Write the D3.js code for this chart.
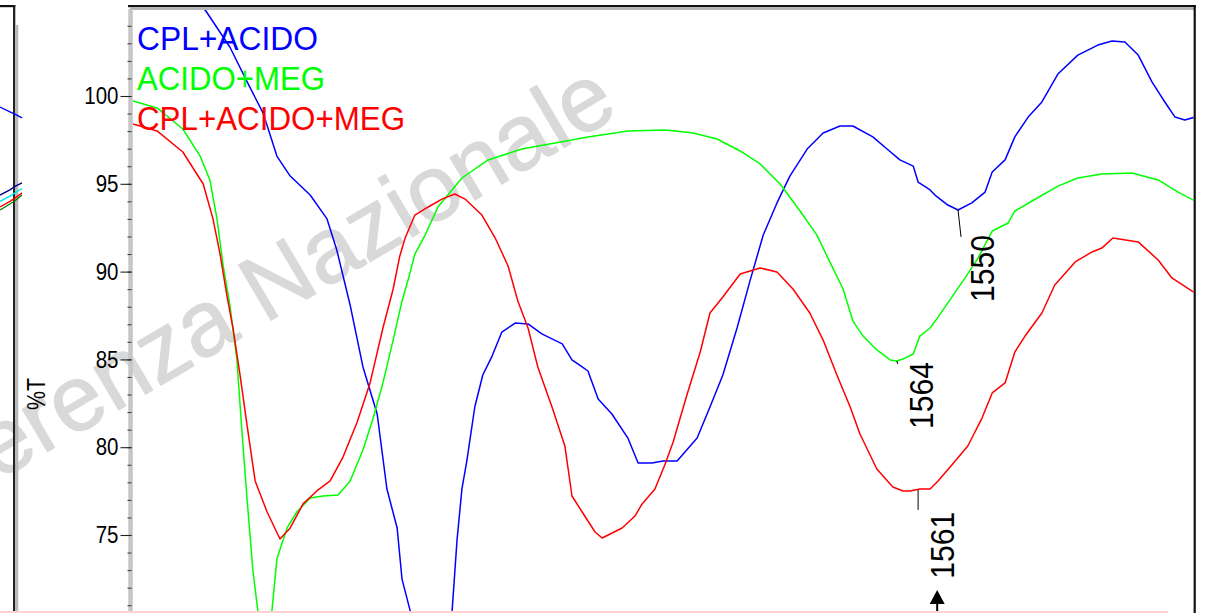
<!DOCTYPE html>
<html><head><meta charset="utf-8">
<script src="https://cdn.jsdelivr.net/npm/d3@7"></script>
<style>
html,body{margin:0;padding:0;background:#fff;overflow:hidden;}
svg{display:block;font-family:Arial,"Liberation Sans",sans-serif;}
</style></head><body>
<svg id="chart" width="1209" height="613"></svg>
<script>
// ---------------- data ----------------
const seriesNames = ["CPL+ACIDO", "ACIDO+MEG", "CPL+ACIDO+MEG"];
const seriesColors = ["#0000ff", "#00ff00", "#ff0000"];

const blueWavenumber = [1736.8,1728.0,1719.9,1714.5,1710.6,1707.0,1703.9,1700.9,1696.4,1692.6,1690.4,1687.4,1684.5,1681.3,1679.1,1676.8,1675.7,1673.9,1672.1,1669.2,1666.2,1664.4,1663.3,1662.2,1661.1,1659.3,1657.5,1655.4,1653.2,1650.2,1647.3,1644.2,1639.6,1637.4,1635.1,1633.8,1631.5,1628.4,1624.8,1622.5,1619.4,1616.9,1613.7,1609.2,1606.3,1603.4,1600.2,1597.3,1594.3,1591.2,1588.3,1584.4,1580.8,1577.0,1574.1,1569.6,1566.4,1563.5,1560.5,1559.4,1556.7,1555.6,1552.7,1550.4,1547.3,1544.3,1542.7,1539.8,1537.6,1534.6,1531.5,1527.9,1523.4,1518.9,1515.7,1512.8,1509.8,1506.7,1503.8,1501.5,1499.3,1497.0];
const blueT = [110.0,107.2,104.84,102.79,100.80,99.03,96.58,95.44,94.36,93.00,91.23,88.10,84.57,81.89,77.62,75.40,72.49,70.72,69.02,67.88,69.02,70.72,74.72,77.62,79.21,82.29,84.11,85.19,86.56,87.07,87.02,86.45,85.88,84.97,84.57,84.34,82.74,81.89,80.52,79.10,79.10,79.21,79.21,80.52,82.29,84.11,86.79,89.46,92.08,93.91,95.44,96.98,97.89,98.29,98.29,97.67,96.98,96.36,96.01,95.10,94.65,94.36,93.79,93.51,93.91,94.53,95.67,96.36,97.67,98.80,99.66,101.25,102.33,102.90,103.13,103.08,102.33,100.80,99.66,98.80,98.63,98.80];

const greenWavenumber = [1736.3,1730.9,1725.1,1721.2,1719.0,1717.4,1716.0,1714.5,1712.9,1711.8,1710.6,1709.3,1708.2,1707.3,1706.4,1705.5,1705.0,1703.9,1701.6,1699.4,1696.4,1693.5,1690.1,1687.4,1684.5,1682.2,1680.0,1677.7,1675.7,1674.4,1672.8,1670.5,1667.6,1662.2,1656.3,1648.7,1641.2,1633.8,1624.8,1616.4,1610.1,1604.7,1599.5,1595.0,1590.5,1586.0,1582.2,1579.3,1576.3,1574.1,1571.8,1568.7,1565.7,1564.2,1562.8,1560.5,1559.0,1556.7,1554.9,1551.8,1548.8,1545.9,1542.7,1539.1,1537.6,1533.7,1527.9,1523.4,1518.0,1511.2,1505.3,1500.8,1497.0];
const greenT = [99.72,99.32,98.12,96.58,95.22,93.00,90.32,88.10,84.97,80.98,76.99,72.95,70.72,68.45,68.16,69.02,70.72,73.63,75.40,76.31,77.11,77.22,77.28,78.08,79.84,81.66,83.66,86.10,88.33,89.46,91.00,92.08,93.68,95.33,96.36,96.98,97.32,97.67,98.01,98.06,97.89,97.55,96.87,96.13,94.99,93.45,92.08,90.55,89.01,87.19,86.33,85.54,84.97,84.91,85.02,85.31,86.33,86.79,87.41,88.55,89.64,90.77,92.31,92.77,93.45,94.02,94.87,95.33,95.56,95.62,95.22,94.53,94.02];

const redWavenumber = [1736.3,1730.9,1725.1,1720.5,1718.3,1716.7,1715.1,1713.8,1712.2,1710.6,1708.8,1706.1,1703.2,1700.9,1698.0,1694.9,1691.9,1689.0,1685.8,1682.9,1680.0,1677.7,1676.2,1675.0,1672.8,1669.8,1666.7,1663.8,1661.5,1657.7,1654.7,1651.8,1649.6,1647.3,1645.1,1641.9,1639.0,1637.4,1635.1,1632.2,1630.6,1626.1,1623.2,1621.6,1618.7,1616.4,1614.6,1611.5,1608.5,1606.3,1603.4,1599.5,1595.0,1591.2,1587.6,1583.8,1580.8,1577.7,1574.7,1572.5,1568.7,1565.1,1562.8,1561.2,1559.0,1556.7,1554.9,1551.8,1548.2,1545.0,1542.7,1539.8,1537.6,1535.3,1531.5,1528.6,1524.0,1520.2,1518.0,1515.5,1509.8,1505.3,1502.2,1497.0];
const redT = [98.41,98.01,96.81,94.99,93.00,91.00,88.55,86.79,84.11,81.21,78.08,76.31,74.77,75.40,76.77,77.51,78.08,79.44,81.44,83.66,86.79,89.01,90.89,91.91,93.22,93.68,94.13,94.42,94.13,93.22,91.91,90.32,88.33,86.79,84.57,82.29,80.07,77.22,76.31,75.17,74.83,75.40,76.08,76.77,77.62,79.04,80.30,82.97,85.42,87.64,88.55,89.86,90.21,89.98,89.01,87.64,86.10,84.11,82.29,80.75,78.76,77.73,77.51,77.51,77.62,77.62,78.08,78.99,80.07,81.66,83.09,83.66,85.42,86.33,87.64,89.24,90.55,91.12,91.34,91.91,91.69,90.66,89.64,88.78];

const majorTicks = [75, 80, 85, 90, 95, 100];
const minorTicks = [71,72,73,74,75,76,77,78,79,80,81,82,83,84,85,86,87,88,89,90,91,92,93,94,95,96,97,98,99,100,101,102,103,104];
const yAxisTitle = "%T";

const peakLabels = ["1550", "1564", "1561"];
const peakWavenumber = [1550.4, 1564.2, 1559.4];
const peakT = [93.51, 84.91, 77.57];
const arrowWavenumber = 1555.1;

// fragment of the neighbouring panel at the left edge
const leftPanelX = [0, 0.45, 0.7, 1];
const leftTopBlueT = [99.37, 99.1, 98.95, 98.75];
const leftNavyT = [94.36, 94.65, 94.87, 95.05];
const leftCyanT = [94.0, 94.3, 94.5, 94.72];
const leftRedT = [93.68, 94.0, 94.2, 94.48];
const leftGreenT = [93.51, 93.85, 94.05, 94.36];

const watermarkText = "Conferenza Nazionale";

// ---------------- drawing ----------------
const svg = d3.select("#chart");
const W = 1209, H = 613;

const x = d3.scaleLinear().domain([1737, 1497]).range([130, 1195]);
const y = d3.scaleLinear().domain([75, 100]).range([535, 96]);
const xl = d3.scaleLinear().domain([0, 1]).range([0, 22]);

svg.append("rect").attr("width", W).attr("height", H).attr("fill", "#fff");

// watermark
svg.append("text")
  .attr("transform", "translate(621,114) rotate(-30.5)")
  .attr("text-anchor", "end")
  .attr("font-size", 93)
  .attr("fill", "#d9d9d9")
  .attr("stroke", "#d9d9d9")
  .attr("stroke-width", 1.2)
  .text(watermarkText);

// left panel frame
svg.append("rect").attr("x", 0).attr("y", 5).attr("width", 15.3).attr("height", 2.2).attr("fill", "#111");
svg.append("rect").attr("x", 13).attr("y", 5).attr("width", 2.3).attr("height", H - 5).attr("fill", "#222");
svg.append("rect").attr("x", 15.3).attr("y", 25).attr("width", 3).attr("height", H - 25).attr("fill", "#b9b9b9");

const lineL = (ts) => d3.line().x((d, i) => xl(leftPanelX[i])).y(d => y(d))(ts);
[[leftTopBlueT, "#0000ff"], [leftNavyT, "#00008b"], [leftCyanT, "#00e8e8"], [leftGreenT, "#008000"], [leftRedT, "#ff0000"]]
  .forEach(([ts, c]) => svg.append("path").attr("d", lineL(ts)).attr("fill", "none").attr("stroke", c).attr("stroke-width", 1.4));

// main frame
svg.append("rect").attr("x", 128).attr("y", 5).attr("width", 1068).attr("height", 2.2).attr("fill", "#111");
svg.append("rect").attr("x", 130).attr("y", 7.2).attr("width", 1064).attr("height", 2.8).attr("fill", "#b4b4b4");
svg.append("rect").attr("x", 1193.6).attr("y", 5).attr("width", 2.2).attr("height", H - 5).attr("fill", "#111");
svg.append("rect").attr("x", 128.3).attr("y", 9).attr("width", 4.5).attr("height", H - 9).attr("fill", "#c6c6c6");

// y axis: minor and major ticks
const minorAxis = d3.axisLeft(y).tickValues(minorTicks).tickSize(4).tickFormat("");
const gMinor = svg.append("g").attr("transform", "translate(131.5,0)").call(minorAxis);
gMinor.select(".domain").remove();
gMinor.selectAll("line").attr("stroke", "#333").attr("stroke-width", 1);

const majorAxis = d3.axisLeft(y).tickValues(majorTicks).tickSize(11).tickPadding(2).tickFormat(d3.format("d"));
const gMajor = svg.append("g").attr("transform", "translate(131.5,0)").call(majorAxis);
gMajor.select(".domain").remove();
gMajor.selectAll("line").attr("stroke", "#222").attr("stroke-width", 1.1);
gMajor.selectAll("text")
  .attr("font-family", "Arial, 'Liberation Sans', sans-serif")
  .attr("font-size", 24)
  .attr("fill", "#000")
  .attr("textLength", d => String(d).length * 11.4)
  .attr("lengthAdjust", "spacingAndGlyphs");

svg.append("text")
  .attr("transform", "translate(45,394) rotate(-90)")
  .attr("text-anchor", "middle")
  .attr("font-size", 26)
  .attr("textLength", 32)
  .attr("lengthAdjust", "spacingAndGlyphs")
  .attr("fill", "#000")
  .text(yAxisTitle);

// curves
svg.append("clipPath").attr("id", "plotclip")
  .append("rect").attr("x", 131).attr("y", 10).attr("width", 1062.5).attr("height", H - 10);

const series = [
  d3.zip(blueWavenumber, blueT),
  d3.zip(greenWavenumber, greenT),
  d3.zip(redWavenumber, redT)
];
const line = d3.line().x(d => x(d[0])).y(d => y(d[1]));
const gCurves = svg.append("g").attr("clip-path", "url(#plotclip)");
series.forEach((s, i) => {
  gCurves.append("path").attr("d", line(s))
    .attr("fill", "none").attr("stroke", seriesColors[i]).attr("stroke-width", 1.5)
    .attr("stroke-linejoin", "round");
});

// legend
const legendLengths = [181, 188, 268];
seriesNames.forEach((n, i) => {
  svg.append("text").attr("x", 137).attr("y", 50 + i * 40)
    .attr("font-size", 33).attr("fill", seriesColors[i])
    .attr("textLength", legendLengths[i])
    .attr("lengthAdjust", "spacingAndGlyphs")
    .text(n);
});

// peak annotations
const markerDrop = [27, 3, 20];
const markerSlant = [3, 1, 0];
peakLabels.forEach((lab, i) => {
  const px = x(peakWavenumber[i]);
  const py = y(peakT[i]);
  const bottom = py + markerDrop[i];
  svg.append("line")
    .attr("x1", px).attr("y1", py).attr("x2", px + markerSlant[i]).attr("y2", bottom)
    .attr("stroke", "#000").attr("stroke-width", 1);
  svg.append("text")
    .attr("transform", `translate(${px + 36},${bottom + (i === 2 ? 2 : -2)}) rotate(-90)`)
    .attr("text-anchor", "end")
    .attr("font-size", 34)
    .attr("textLength", 67)
    .attr("lengthAdjust", "spacingAndGlyphs")
    .attr("fill", "#000")
    .text(lab);
});

// arrow
const ax = x(arrowWavenumber);
svg.append("path")
  .attr("d", `M${ax},590 L${ax + 7.5},604 L${ax - 7.5},604 Z`)
  .attr("fill", "#000");
svg.append("line").attr("x1", ax).attr("x2", ax).attr("y1", 603).attr("y2", H)
  .attr("stroke", "#000").attr("stroke-width", 2);

// faint pink rule at the bottom
svg.append("rect").attr("x", 0).attr("y", 611).attr("width", 1168).attr("height", 2).attr("fill", "#ffd2d2");
</script>
</body></html>
